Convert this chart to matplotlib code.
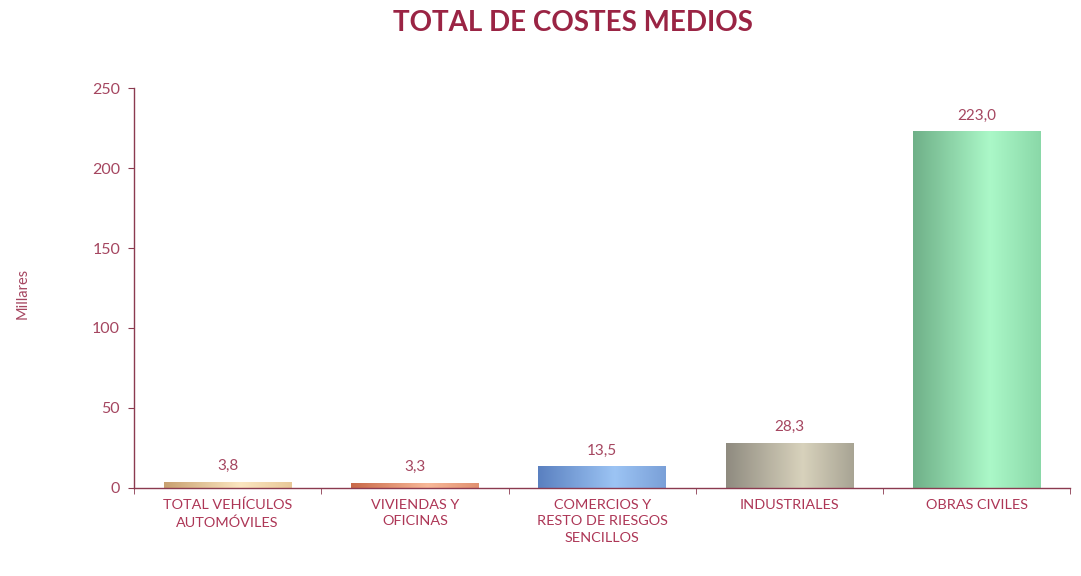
import numpy as np
import matplotlib
matplotlib.use("Agg")
import matplotlib.pyplot as plt
from matplotlib.colors import LinearSegmentedColormap

categories = ["TOTAL VEHÍCULOS\nAUTOMÓVILES", "VIVIENDAS Y\nOFICINAS",
              "COMERCIOS Y\nRESTO DE RIESGOS\nSENCILLOS", "INDUSTRIALES", "OBRAS CIVILES"]
values = [3.8, 3.3, 13.5, 28.3, 223.0]
# dark edge, highlight, slightly darker right edge for each cylinder-like bar
bar_shades = [
    ("#c8a070", "#fbe6c0", "#e8c898"),
    ("#c86848", "#f8b898", "#e09070"),
    ("#5a80c0", "#9cc4f4", "#7aa0d8"),
    ("#8f8b80", "#d8d2bc", "#a8a494"),
    ("#6fb088", "#abf8c8", "#8ad8a8"),
]

red = "#ad3656"
label_col = "#a54660"
axis_col = "#8b3a50"

plt.rcParams['font.family'] = ['Lato', 'DejaVu Sans']

fig = plt.figure(figsize=(10.81, 5.76), dpi=100)
ax = fig.add_axes([0.124, 0.153, 0.866, 0.694])

x = np.arange(len(values))
width = 0.68
bars = ax.bar(x, values, width=width, color="none", edgecolor="none", zorder=2)

grad = np.linspace(0, 1, 256).reshape(1, -1)
for b, shades in zip(bars, bar_shades):
    cmap = LinearSegmentedColormap.from_list("c", [(0, shades[0]), (0.6, shades[1]), (1, shades[2])])
    x0, y0 = b.get_x(), b.get_y()
    im = ax.imshow(grad, cmap=cmap, aspect="auto", zorder=2,
                   extent=[x0, x0 + b.get_width(), y0, y0 + b.get_height()])
    im.set_clip_path(b)

for xi, v in zip(x, values):
    ax.text(xi, v + 5.5, ("%.1f" % v).replace(".", ","), ha="center", va="bottom",
            fontsize=11, color=label_col)

ax.set_xlim(-0.5, len(values) - 0.5)
ax.set_ylim(0, 250)
ax.set_yticks([0, 50, 100, 150, 200, 250])
ax.set_xticks(x)
ax.set_xticklabels(categories, fontsize=10.4, color=red, linespacing=1.45)
ax.set_xticks(np.arange(len(values) + 1) - 0.5, minor=True)
ax.tick_params(axis="x", which="major", length=0, pad=8)
ax.tick_params(axis="x", which="minor", length=4, color=axis_col)
ax.tick_params(axis="y", length=4, color=axis_col, labelcolor=label_col, labelsize=11.5, pad=6)

for s in ["top", "right"]:
    ax.spines[s].set_visible(False)
for s in ["left", "bottom"]:
    ax.spines[s].set_color(axis_col)
    ax.spines[s].set_linewidth(1.0)

fig.text(0.021, 0.49, "Millares", rotation=90, ha="center", va="center",
         fontsize=10.5, color=label_col)
fig.text(0.53, 0.96, "TOTAL DE COSTES MEDIOS", ha="center", va="center",
         fontsize=20, fontweight="bold", color="#9a2444")

fig.savefig("out.png", dpi=100)
